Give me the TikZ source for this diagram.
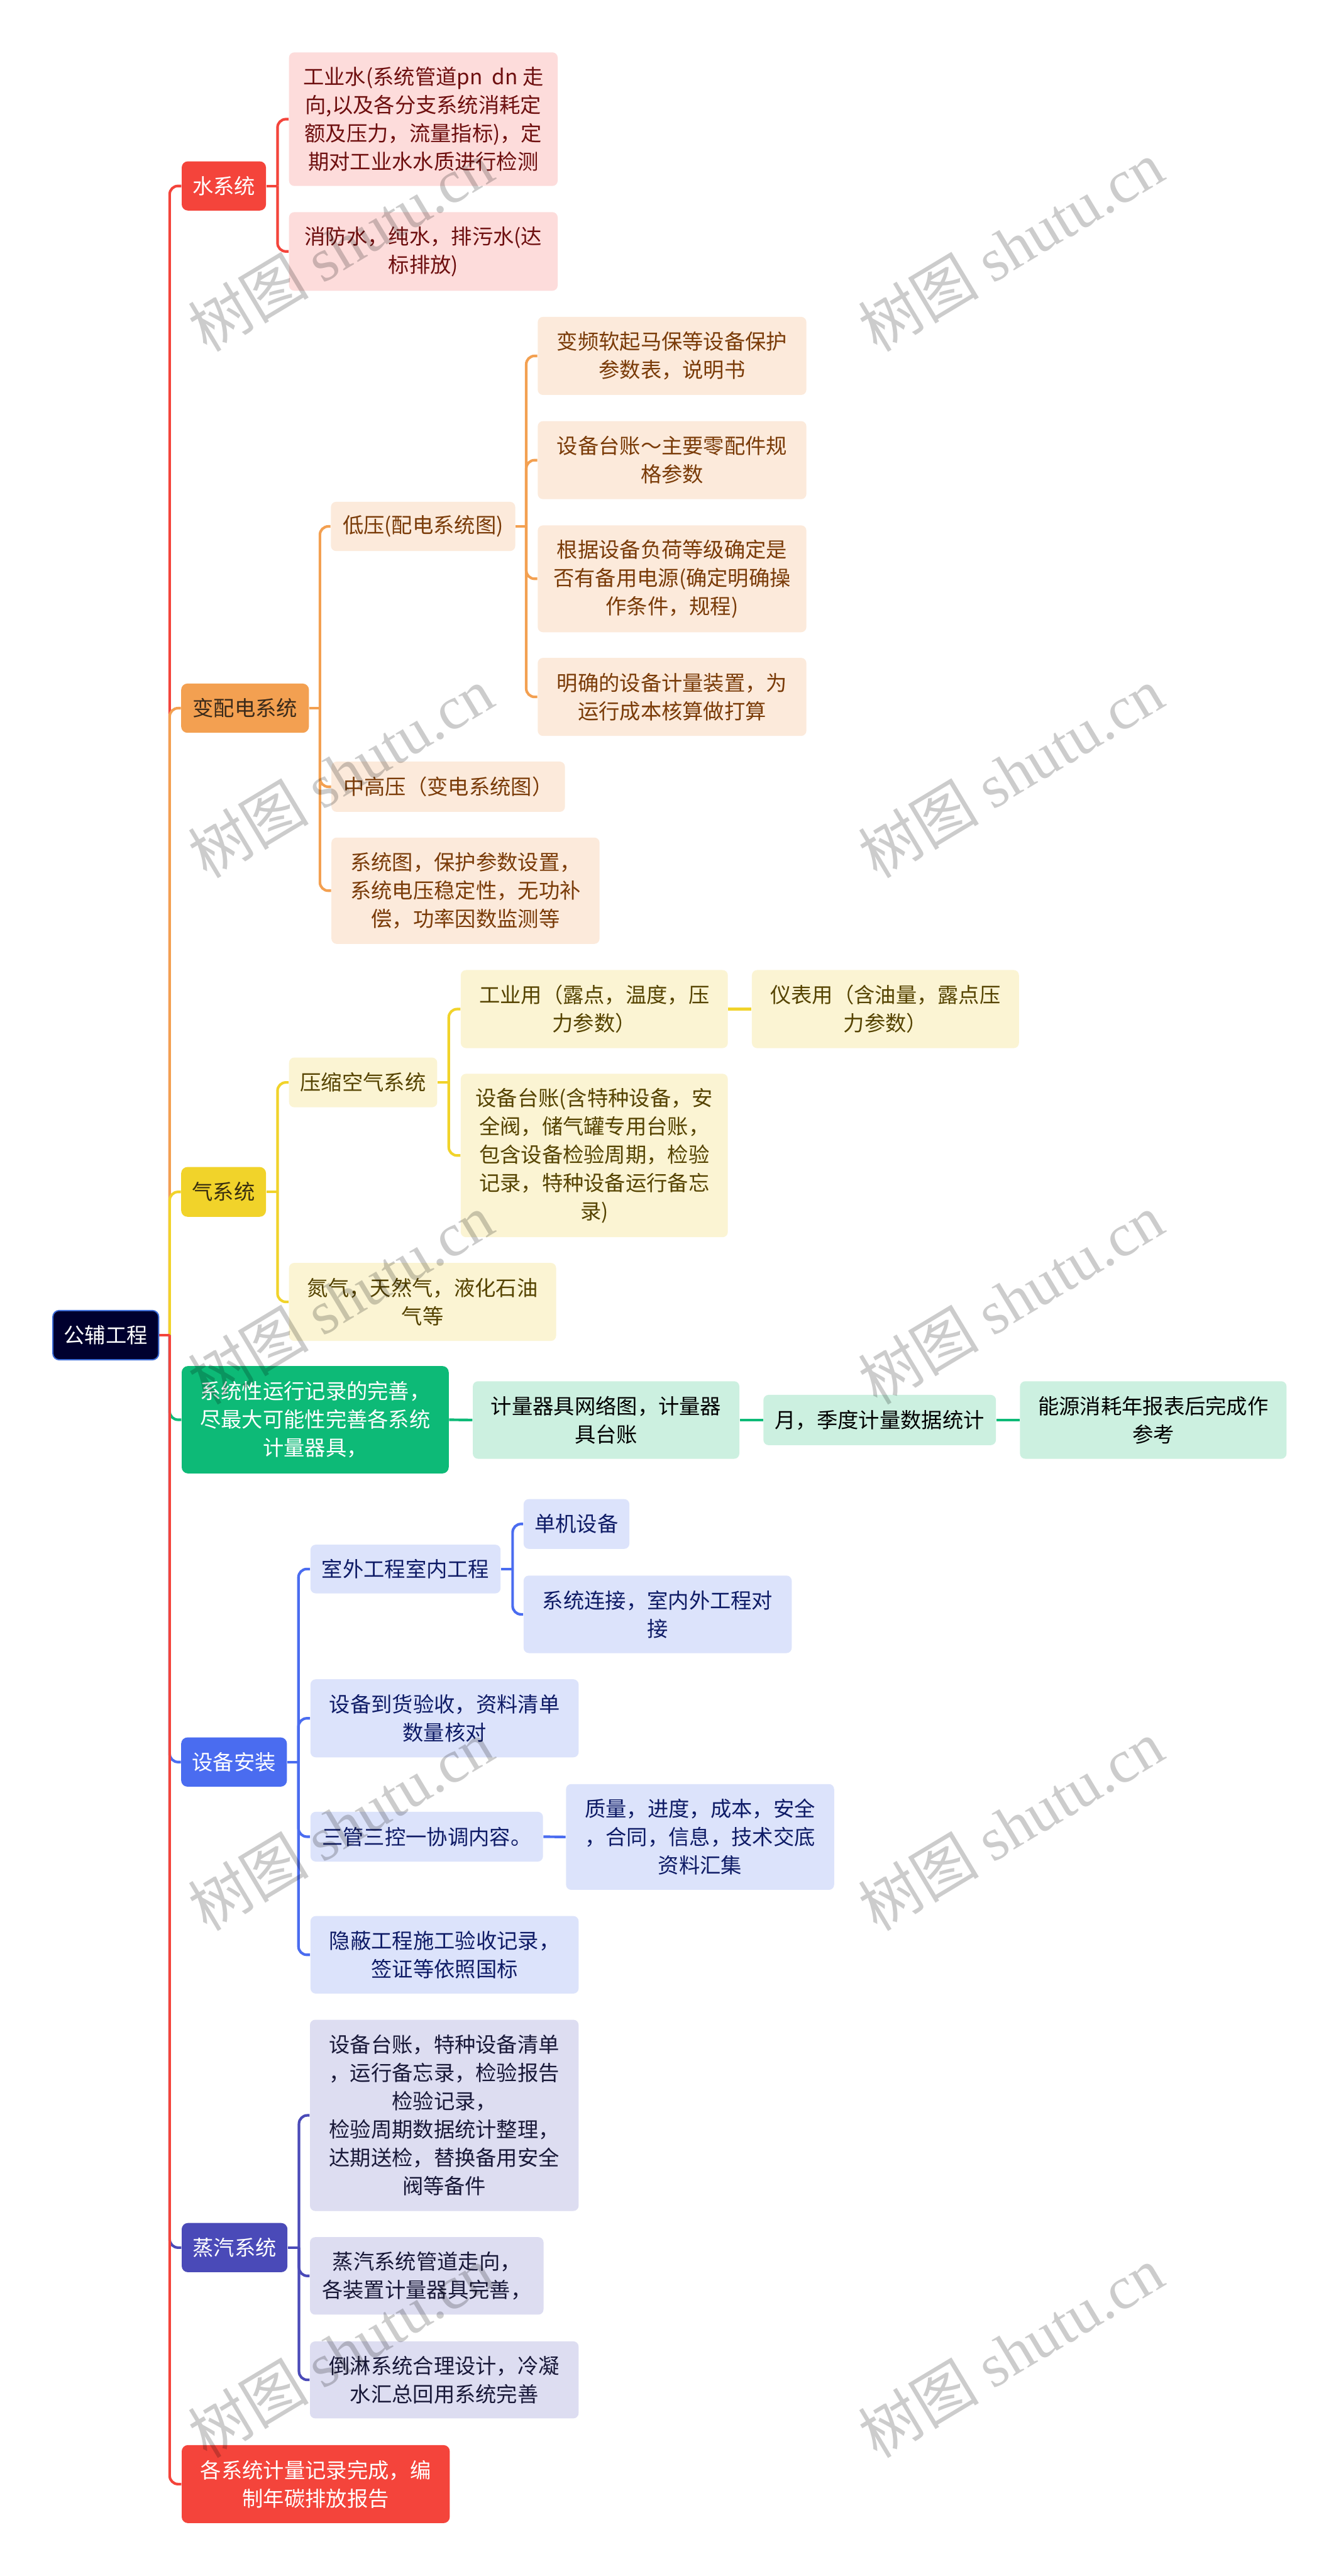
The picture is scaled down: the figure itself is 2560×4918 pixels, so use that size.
\documentclass[tikz,border=0pt]{standalone}
\usepackage{fontspec}
\setmainfont{Noto Sans CJK SC}
\newfontfamily\wmfont{Liberation Serif}
\usetikzlibrary{calc}
\pgfdeclarelayer{bg}
\pgfsetlayers{bg,main}
\definecolor{cRoot}{HTML}{00002E}
\definecolor{cRootB}{HTML}{3B6BD6}
\definecolor{cRed}{HTML}{F4443B}
\definecolor{cRedL}{HTML}{FDDCDB}
\definecolor{cRedT}{HTML}{6E0F0F}
\definecolor{cOra}{HTML}{F3A051}
\definecolor{cOraL}{HTML}{FCEADB}
\definecolor{cOraT}{HTML}{7A3B08}
\definecolor{cOraD}{HTML}{3B2A1A}
\definecolor{cYel}{HTML}{F1D32A}
\definecolor{cYelL}{HTML}{FBF4D3}
\definecolor{cYelT}{HTML}{554300}
\definecolor{cYelD}{HTML}{3A3010}
\definecolor{cGrn}{HTML}{0DBA77}
\definecolor{cGrnL}{HTML}{CCF0E0}
\definecolor{cBlu}{HTML}{4A6CF0}
\definecolor{cBluL}{HTML}{DCE3FB}
\definecolor{cBluT}{HTML}{0E1B66}
\definecolor{cPur}{HTML}{4A4AB8}
\definecolor{cPurL}{HTML}{DDDDF1}
\definecolor{cPurT}{HTML}{181838}
\newcommand\nd[7]{\node[box,#1,minimum width={(#5-#3)*0.25pt},minimum height={(#6-#4)*0.25pt}] (#2) at ({(#3+#5)/2},{(#4+#6)/2}) {#7};}
\newcommand\br[4]{%
  \draw[lnk,#1] (#2.east) -- (#2.east -| #3);
  \draw[lnk,#1] (#2.east -| #3) |- (#4.west);}
\tikzset{
  box/.style={rounded corners=2.5pt, inner sep=0pt, align=center, font=\fontsize{10pt}{13.5pt}\selectfont},
  lnk/.style={line width=1.25pt, rounded corners=4pt},
  mainR/.style={fill=cRed, text=white, rounded corners=3pt},
  mainO/.style={fill=cOra, text=cOraD, rounded corners=3pt},
  mainY/.style={fill=cYel, text=cYelD, rounded corners=3pt},
  mainG/.style={fill=cGrn, text=white, rounded corners=3pt},
  mainB/.style={fill=cBlu, text=white, rounded corners=3pt},
  mainP/.style={fill=cPur, text=white, rounded corners=3pt},
  leafR/.style={fill=cRedL, text=cRedT},
  leafO/.style={fill=cOraL, text=cOraT},
  leafY/.style={fill=cYelL, text=cYelT},
  leafG/.style={fill=cGrnL, text=black},
  leafB/.style={fill=cBluL, text=cBluT},
  leafP/.style={fill=cPurL, text=cPurT},
  wm/.style={rotate=31, text=black, text opacity=0.2, font=\fontsize{29pt}{30pt}\selectfont}
}
\begin{document}
\begin{tikzpicture}[x=0.25pt,y=-0.25pt]
\useasboundingbox (0,0) rectangle (2560,4918);
% junction columns
\coordinate (jR) at (324,0);
\coordinate (jW) at (530,0);
\coordinate (jO) at (611,0);
\coordinate (jO1) at (1005,0);
\coordinate (jY) at (530,0);
\coordinate (jY1) at (857,0);
\coordinate (jB) at (570,0);
\coordinate (jB1) at (979,0);
\coordinate (jP) at (571,0);
% root
\nd{fill=cRoot, text=white, draw=cRootB, line width=0.6pt, rounded corners=3pt}{root}{101}{2502}{303}{2596}{公辅工程}
% level 1
\nd{mainR}{m1}{347}{308}{508}{402}{水系统}
\nd{mainO}{m2}{346}{1305}{590}{1399}{变配电系统}
\nd{mainY}{m3}{346}{2228}{508}{2323}{气系统}
\nd{mainG}{m4}{347}{2608}{857}{2813}{系统性运行记录的完善，\\尽最大可能性完善各系统\\计量器具，}
\nd{mainB}{m5}{346}{3317}{548}{3411}{设备安装}
\nd{mainP}{m6}{347}{4244}{549}{4338}{蒸汽系统}
\nd{mainR}{m7}{347}{4668}{859}{4817}{各系统计量记录完成，编\\制年碳排放报告}
% water
\nd{leafR}{w1}{552}{100}{1065}{355}{工业水(系统管道pn\ \ dn 走\\向,以及各分支系统消耗定\\额及压力，流量指标)，定\\期对工业水水质进行检测}
\nd{leafR}{w2}{552}{405}{1065}{555}{消防水，纯水，排污水(达\\标排放)}
% power
\nd{leafO}{o1}{632}{958}{984}{1052}{低压(配电系统图)}
\nd{leafO}{o2}{633}{1454}{1079}{1550}{中高压（变电系统图）}
\nd{leafO}{o3}{633}{1599}{1145}{1802}{系统图，保护参数设置，\\系统电压稳定性，无功补\\偿，功率因数监测等}
\nd{leafO}{o11}{1027}{605}{1540}{754}{变频软起马保等设备保护\\参数表，说明书}
\nd{leafO}{o12}{1027}{804}{1540}{953}{设备台账～主要零配件规\\格参数}
\nd{leafO}{o13}{1027}{1003}{1540}{1207}{根据设备负荷等级确定是\\否有备用电源(确定明确操\\作条件，规程)}
\nd{leafO}{o14}{1027}{1256}{1540}{1405}{明确的设备计量装置，为\\运行成本核算做打算}
% air
\nd{leafY}{y1}{552}{2019}{835}{2114}{压缩空气系统}
\nd{leafY}{y2}{552}{2411}{1062}{2560}{氮气，天然气，液化石油\\气等}
\nd{leafY}{y11}{880}{1852}{1390}{2001}{工业用（露点，温度，压\\力参数）}
\nd{leafY}{y12}{880}{2050}{1390}{2362}{设备台账(含特种设备，安\\全阀，储气罐专用台账，\\包含设备检验周期，检验\\记录，特种设备运行备忘\\录)}
\nd{leafY}{y111}{1436}{1852}{1946}{2001}{仪表用（含油量，露点压\\力参数）}
% green chain
\nd{leafG}{g1}{903}{2637}{1412}{2785}{计量器具网络图，计量器\\具台账}
\nd{leafG}{g2}{1458}{2663}{1902}{2759}{月，季度计量数据统计}
\nd{leafG}{g3}{1948}{2637}{2457}{2785}{能源消耗年报表后完成作\\参考}
% install
\nd{leafB}{b1}{593}{2949}{956}{3042}{室外工程室内工程}
\nd{leafB}{b11}{1000}{2862}{1202}{2957}{单机设备}
\nd{leafB}{b12}{1000}{3008}{1512}{3156}{系统连接，室内外工程对\\接}
\nd{leafB}{b2}{593}{3206}{1105}{3355}{设备到货验收，资料清单\\数量核对}
\nd{leafB}{b3}{593}{3459}{1037}{3554}{三管三控一协调内容。}
\nd{leafB}{b31}{1081}{3406}{1593}{3608}{质量，进度，成本，安全\\，合同，信息，技术交底\\资料汇集}
\nd{leafB}{b4}{593}{3658}{1105}{3806}{隐蔽工程施工验收记录，\\签证等依照国标}
% steam
\nd{leafP}{p1}{592}{3856}{1105}{4221}{设备台账，特种设备清单\\，运行备忘录，检验报告\\检验记录，\\检验周期数据统计整理，\\达期送检，替换备用安全\\阀等备件}
\nd{leafP}{p2}{592}{4271}{1038}{4419}{蒸汽系统管道走向，\\各装置计量器具完善，}
\nd{leafP}{p3}{592}{4470}{1105}{4617}{倒淋系统合理设计，冷凝\\水汇总回用系统完善}
% connectors (behind the nodes)
\begin{pgfonlayer}{bg}
\fill[white] (0,0) rectangle (2560,4918);
\br{cRed}{root}{jR}{m1}
\br{cOra}{root}{jR}{m2}
\br{cYel}{root}{jR}{m3}
\br{cGrn}{root}{jR}{m4}
\br{cBlu}{root}{jR}{m5}
\br{cPur}{root}{jR}{m6}
\br{cRed}{root}{jR}{m7}
\br{cRed}{m1}{jW}{w1}
\br{cRed}{m1}{jW}{w2}
\br{cOra}{m2}{jO}{o1}
\br{cOra}{m2}{jO}{o2}
\br{cOra}{m2}{jO}{o3}
\br{cOra}{o1}{jO1}{o11}
\br{cOra}{o1}{jO1}{o12}
\br{cOra}{o1}{jO1}{o13}
\br{cOra}{o1}{jO1}{o14}
\br{cYel}{m3}{jY}{y1}
\br{cYel}{m3}{jY}{y2}
\br{cYel}{y1}{jY1}{y11}
\br{cYel}{y1}{jY1}{y12}
\draw[lnk,cYel] (y11.east) -- (y111.west);
\draw[lnk,cGrn] (m4.east) -- (g1.west);
\draw[lnk,cGrn] (g1.east) -- (g2.west);
\draw[lnk,cGrn] (g2.east) -- (g3.west);
\br{cBlu}{m5}{jB}{b1}
\br{cBlu}{m5}{jB}{b2}
\br{cBlu}{m5}{jB}{b3}
\br{cBlu}{m5}{jB}{b4}
\br{cBlu}{b1}{jB1}{b11}
\br{cBlu}{b1}{jB1}{b12}
\draw[lnk,cBlu] (b3.east) -- (b31.west);
\br{cPur}{m6}{jP}{p1}
\br{cPur}{m6}{jP}{p2}
\br{cPur}{m6}{jP}{p3}
\end{pgfonlayer}
% watermarks
\foreach \yy in {470,1475,2480,3485,4490}{
  \node[wm] (wmL\yy) at (650,\yy) {树图 {\wmfont shutu.cn}};
  \node[wm] (wmR\yy) at (1930,\yy) {树图 {\wmfont shutu.cn}};
}
\end{tikzpicture}
\end{document}
